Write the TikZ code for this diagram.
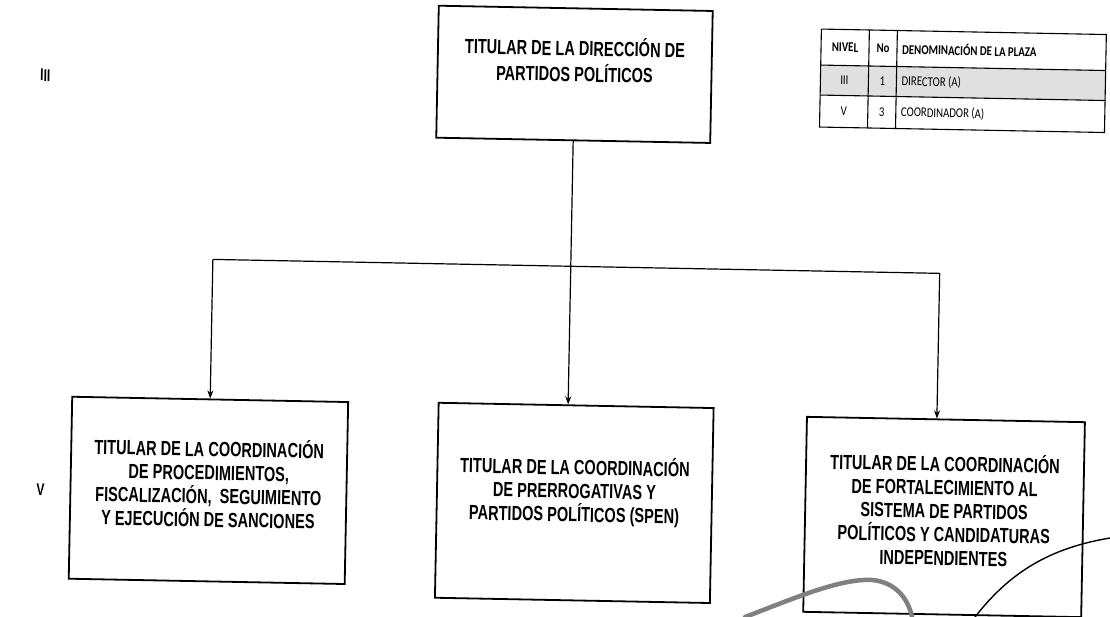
\documentclass[tikz,border=0pt]{standalone}
\usepackage{fontspec}
\setmainfont{Liberation Sans}[FakeStretch=0.71]
\newfontfamily\tabfont{Carlito}[FakeStretch=0.8]
\usetikzlibrary{arrows.meta}
\tikzset{
  box/.style={draw, line width=1.8pt, align=center, inner sep=0pt,
    font=\bfseries\fontsize{20.5}{23.5}\selectfont},
  conn/.style={line width=1.2pt},
  arr/.style={conn, -{Stealth[length=8pt,width=6pt]}},
  grid/.style={line width=1.1pt},
  cellh/.style={font=\tabfont\bfseries\fontsize{13.5}{15}\selectfont, inner sep=0pt},
  cell/.style={font=\tabfont\fontsize{13.5}{15}\selectfont, inner sep=0pt},
  lvl/.style={font=\bfseries\fontsize{17}{19}\selectfont, inner sep=0pt},
  scribble/.style={line width=1.4pt, line cap=round},
  gscribble/.style={line width=4.5pt, line cap=round, black!50},
}
\begin{document}
\begin{tikzpicture}[x=1pt,y=-1pt]
\useasboundingbox (0,0) rectangle (1110,617);
\fill[white] (0,0) rectangle (1110,617);
\begin{scope}[rotate around={-1.1:(555,308)}, every node/.append style={transform shape}]
  % level labels
  \node[lvl] (l3) at (41,85) {III};
  \node[lvl] (l5) at (44,500) {V};
  % boxes
  \node[box, minimum width=274pt, minimum height=132pt] (top) at (570,74)
    {TITULAR DE LA DIRECCIÓN DE\\[2.5pt]PARTIDOS POLÍTICOS\\[6pt]};
  \node[box, minimum width=276pt, minimum height=182pt] (left) at (212,497)
    {TITULAR DE LA COORDINACIÓN\\DE PROCEDIMIENTOS,\\FISCALIZACIÓN,~ SEGUIMIENTO\\Y EJECUCIÓN DE SANCIONES\\[-8pt]};
  \node[box, minimum width=275pt, minimum height=195pt] (mid) at (578,502.5)
    {TITULAR DE LA COORDINACIÓN\\DE PRERROGATIVAS Y\\PARTIDOS POLÍTICOS (SPEN)\\[4pt]};
  \node[box, minimum width=278pt, minimum height=195pt] (right) at (948,509.5)
    {TITULAR DE LA COORDINACIÓN\\DE FORTALECIMIENTO AL\\SISTEMA DE PARTIDOS\\POLÍTICOS Y CANDIDATURAS\\INDEPENDIENTES\\[-8pt]};
  % connectors
  \coordinate (hl) at (212,266);
  \coordinate (hm) at (570,266);
  \coordinate (hr) at (939,266);
  \draw[conn] (top.south -| hm) -- (hm);
  \draw[conn] (hl) -- (hr);
  \draw[arr] (hl) -- (hl |- left.north);
  \draw[arr] (hm) -- (hm |- mid.north);
  \draw[arr] (hr) -- (hr |- right.north);
  % table
  \fill[black!12] (816,60) rectangle (1101,90);
  \draw[grid] (816,24) rectangle (1101,122);
  \draw[grid] (816,60) -- (1101,60);
  \draw[grid] (816,90) -- (1101,90);
  \draw[grid] (864,24) -- (864,122);
  \draw[grid] (892,24) -- (892,122);
  \node[cellh] (h1) at (840,42) {NIVEL};
  \node[cellh] (h2) at (878,42) {No};
  \node[cellh, anchor=west] (h3) at (897,42) {DENOMINACIÓN DE LA PLAZA};
  \node[cell] (a1) at (840,75) {III};
  \node[cell] (a2) at (878,75) {1};
  \node[cell, anchor=west] (a3) at (897,75) {DIRECTOR (A)};
  \node[cell] (b1) at (840,106) {V};
  \node[cell] (b2) at (878,106) {3};
  \node[cell, anchor=west] (b3) at (897,106) {COORDINADOR (A)};
\end{scope}
% scan marks
\draw[gscribble] (745,617) .. controls (790,600) and (840,578) .. (872,580)
  .. controls (895,582) and (908,598) .. (912,617);
\draw[scribble] (975,617) .. controls (1010,572) and (1050,548) .. (1110,538);
\end{tikzpicture}
\end{document}
